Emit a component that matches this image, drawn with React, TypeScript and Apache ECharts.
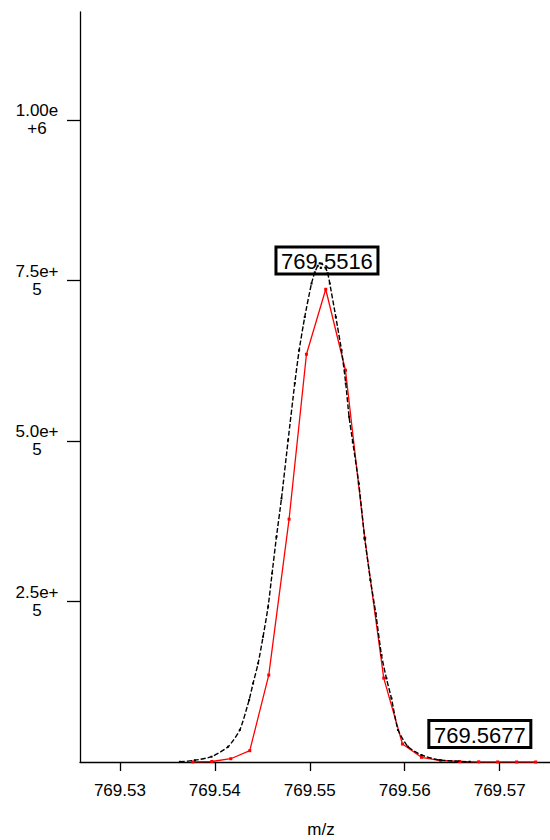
import React, { useEffect, useRef } from "react";
import * as echarts from "echarts";

// Profile (fitted) curve: m/z and intensity
const profileMz = [
  769.53632, 769.53789, 769.53965, 769.5414, 769.54263, 769.54361, 769.54403, 769.54456,
  769.54508, 769.54561, 769.54603, 769.54649, 769.54702, 769.54772, 769.54842, 769.54888,
  769.54947, 769.55018, 769.55053, 769.55084, 769.55105, 769.55126, 769.55168, 769.55189,
  769.55211, 769.55274, 769.55334, 769.55379, 769.55414, 769.55453, 769.55516, 769.55579,
  769.55639, 769.55695, 769.55755, 769.55807, 769.5586, 769.5593, 769.56035, 769.56176,
  769.56368, 769.56684,
];
const profileIntensity = [
  311, 2646, 8249, 23813, 49805, 96497, 122489, 153617,
  195019, 241709, 293693, 350657, 410423, 501161, 589876, 641237,
  693070, 745053, 762636, 772753, 776644, 776177, 768862, 761080,
  745053, 693070, 641237, 589410, 537424, 498048, 433768, 348167,
  283265, 231437, 166535, 130271, 99143, 49805, 23813, 10895,
  3113, 467,
];

// Centroid / sampled spectrum (red)
const spectrumMz = [
  769.53768, 769.53968, 769.54168, 769.54368, 769.54568, 769.54782, 769.54965, 769.55168,
  769.55376, 769.55579, 769.55779, 769.55976, 769.56176, 769.56379, 769.56579, 769.56779,
  769.56979, 769.57179, 769.57379,
];
const spectrumIntensity = [
  150, 780, 5100, 17600, 135400, 378200, 635000, 736200,
  610100, 348600, 130700, 28000, 7300, 2300, 800, 300,
  100, 50, 20,
];

// Peak annotations (label box centre)
const peakLabelText = ["769.5516", "769.5677"];
const peakLabelMz = [769.5516, 769.5677];
const peakLabelIntensity = [781000, 43600];

// Axis ticks
const xTickValues = [769.53, 769.54, 769.55, 769.56, 769.57];
const xTickLabels = ["769.53", "769.54", "769.55", "769.56", "769.57"];
const yTickValues = [250000, 500000, 750000, 1000000];
const yTickLabels = ["2.5e+\n5", "5.0e+\n5", "7.5e+\n5", "1.00e\n+6"];
const xAxisTitle = "m/z";

const FONT = "'Liberation Sans', Arial, Helvetica, sans-serif";

export default function App() {
  const ref = useRef<HTMLDivElement>(null);

  useEffect(() => {
    if (!ref.current) return;
    const chart = echarts.init(ref.current, null, { renderer: "svg" });

    const profile = profileMz.map((m, i) => [m, profileIntensity[i]]);
    const spectrum = spectrumMz.map((m, i) => [m, spectrumIntensity[i]]);

    chart.setOption({
      animation: false,
      backgroundColor: "#ffffff",
      grid: { left: 80, right: 0, top: 12, bottom: 78, containLabel: false },
      xAxis: {
        type: "value",
        min: 769.5258,
        max: 769.5753,
        splitLine: { show: false },
        axisLine: { show: true, onZero: false, lineStyle: { color: "#000", width: 1.3 } },
        axisTick: {
          show: true,
          customValues: xTickValues,
          length: 9,
          lineStyle: { color: "#000", width: 1.3 },
        },
        axisLabel: {
          customValues: xTickValues,
          formatter: (v: number) => {
            const idx = xTickValues.findIndex((t) => Math.abs(t - v) < 1e-7);
            return idx >= 0 ? xTickLabels[idx] : "";
          },
          margin: 20,
          fontSize: 17,
          fontFamily: FONT,
          color: "#000",
        },
      },
      yAxis: {
        type: "value",
        min: 0,
        max: 1168000,
        splitLine: { show: false },
        axisLine: { show: true, lineStyle: { color: "#000", width: 1.3 } },
        axisTick: {
          show: true,
          customValues: yTickValues,
          length: 13,
          lineStyle: { color: "#000", width: 1.3 },
        },
        axisLabel: {
          customValues: yTickValues,
          formatter: (v: number) => {
            const idx = yTickValues.findIndex((t) => Math.abs(t - v) < 1);
            return idx >= 0 ? yTickLabels[idx] : "";
          },
          align: "center",
          margin: 43,
          lineHeight: 18,
          fontSize: 17,
          fontFamily: FONT,
          color: "#000",
        },
      },
      series: [
        {
          type: "line",
          data: spectrum,
          z: 3,
          symbol: "rect",
          symbolSize: 3,
          showSymbol: true,
          itemStyle: { color: "#ff0000" },
          lineStyle: { color: "#ff0000", width: 1.3 },
        },
        {
          type: "line",
          data: profile,
          z: 4,
          smooth: 0.2,
          symbol: "rect",
          symbolSize: 2,
          showSymbol: true,
          itemStyle: { color: "#000" },
          lineStyle: { color: "#000", width: 1.4, type: [5, 2] },
        },
      ],
    });

    // Peak label boxes placed through the chart's own scales
    const graphics: any[] = [
      {
        type: "text",
        x: 321,
        y: 829,
        style: {
          text: xAxisTitle,
          font: `17px ${FONT}`,
          fill: "#000",
          textAlign: "center",
          textVerticalAlign: "middle",
        },
      },
    ];
    peakLabelMz.forEach((m, i) => {
      const [px, py] = chart.convertToPixel({ gridIndex: 0 }, [m, peakLabelIntensity[i]]) as number[];
      const cx = px + 2;
      graphics.push({
        type: "rect",
        z: 1,
        shape: { x: cx - 51, y: py - 13.5, width: 102, height: 27 },
        style: { fill: "#fff", stroke: "#000", lineWidth: 3 },
      });
      graphics.push({
        type: "text",
        z: 2,
        x: cx,
        y: py + 1,
        style: {
          text: peakLabelText[i],
          font: `22px ${FONT}`,
          fill: "#000",
          textAlign: "center",
          textVerticalAlign: "middle",
        },
      });
    });
    chart.setOption({ graphic: graphics });

    return () => chart.dispose();
  }, []);

  return (
    <div
      ref={ref}
      style={{ position: "absolute", left: 0, top: 0, width: 550, height: 840 }}
    />
  );
}
